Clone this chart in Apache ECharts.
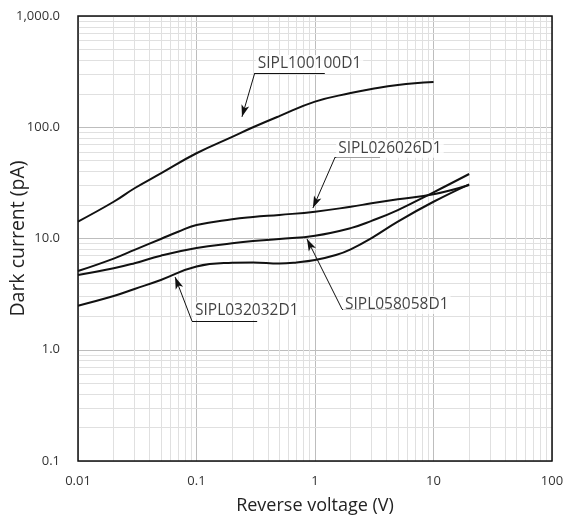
<!DOCTYPE html>
<html>
<head>
<meta charset="utf-8">
<script src="https://cdn.jsdelivr.net/npm/echarts@6/dist/echarts.min.js"></script>
<style>html,body{margin:0;padding:0;background:#fff}#c{width:564px;height:515px}</style>
</head>
<body>
<div id="c"></div>
<script>
// Curves: reverse voltage (V) vs dark current (pA)
const v100 = [0.01, 0.02, 0.03, 0.05, 0.1, 0.2, 0.3, 0.5, 1, 2, 3, 5, 10];
const i100 = [14.2, 21.4, 28.3, 38.5, 58.4, 82, 100, 126, 170, 203, 221, 240, 255];
const v026 = [0.01, 0.02, 0.03, 0.05, 0.07, 0.1, 0.2, 0.3, 0.5, 1, 2, 3, 5, 10, 20];
const i026 = [5.1, 6.6, 7.9, 9.9, 11.5, 13.2, 14.9, 15.6, 16.3, 17.4, 19.3, 20.7, 22.5, 25.0, 30.3];
const v058 = [0.01, 0.02, 0.03, 0.05, 0.1, 0.2, 0.3, 0.5, 1, 2, 3, 5, 10, 20];
const i058 = [4.7, 5.4, 6.0, 7.0, 8.2, 9.06, 9.5, 9.9, 10.6, 12.4, 14.4, 18.0, 26.0, 38.0];
const v032 = [0.01, 0.02, 0.03, 0.05, 0.1, 0.2, 0.3, 0.5, 0.7, 1, 1.5, 2, 3, 5, 10, 20];
const i032 = [2.49, 3.04, 3.52, 4.24, 5.6, 6.05, 6.1, 5.97, 6.1, 6.4, 7.1, 8.0, 10.1, 14.2, 21.4, 30.7];

// Axis ticks
const xTicks = [0.01, 0.1, 1, 10, 100];
const xTickLabels = ['0.01', '0.1', '1', '10', '100'];
const yTicks = [0.1, 1, 10, 100, 1000];
const yTickLabels = ['0.1', '1.0', '10.0', '100.0', '1,000.0'];
const minorMult = [2, 3, 4, 5, 6, 7, 8, 9];

// Annotations: name, text anchor [V, pA], underline end V, arrow tip [V, pA]
const annNames = ['SIPL100100D1', 'SIPL026026D1', 'SIPL058058D1', 'SIPL032032D1'];
const annStart = [[0.31, 307], [1.48, 54], [1.69, 2.32], [0.0916, 1.81]];
const annTextY = [370, 64, 2.53, 2.24];
const annLineEndX = [1.21, 3.54, 5.86, 0.325];
const annTip = [[0.242, 124], [0.96, 18.8], [0.856, 9.9], [0.066, 4.5]];

const zip = (a, b) => a.map((x, i) => [x, b[i]]);

const minorX = [];
[0.01, 0.1, 1, 10].forEach(d => minorMult.forEach(m => minorX.push(+(d * m).toPrecision(3))));
const minorY = [];
[0.1, 1, 10, 100].forEach(d => minorMult.forEach(m => minorY.push(+(d * m).toPrecision(3))));

const fontFam = 'Open Sans';
const curveStyle = { color: '#111', width: 2 };

function curve(name, v, i) {
  return { name, type: 'line', data: zip(v, i), smooth: 0.45, showSymbol: false, symbol: 'none',
    lineStyle: curveStyle, z: 5, silent: true };
}

const annLines = [];
annNames.forEach((n, k) => {
  annLines.push([{ coord: annStart[k], symbol: 'none' }, { coord: annTip[k], symbol: 'arrow', symbolSize: [6, 12] }]);
  annLines.push([{ coord: annStart[k], symbol: 'none' }, { coord: [annLineEndX[k], annStart[k][1]], symbol: 'none' }]);
});

const chart = echarts.init(document.getElementById('c'), null, { renderer: 'canvas' });
chart.setOption({
  animation: false,
  backgroundColor: '#fff',
  grid: { left: 78, top: 16, right: 12, bottom: 54, containLabel: false, outerBoundsMode: 'none',
    show: true, borderColor: '#111', borderWidth: 1.5, backgroundColor: 'transparent', z: 10 },
  xAxis: {
    type: 'log', logBase: 10, min: 0.01, max: 100,
    name: 'Reverse voltage (V)', nameLocation: 'middle', nameGap: 36, nameMoveOverlap: false,
    nameTextStyle: { fontFamily: fontFam, fontSize: 18, color: '#222' },
    axisLine: { show: false }, axisTick: { show: false },
    axisLabel: { fontFamily: fontFam, fontSize: 13, color: '#333', margin: 14,
      formatter: v => { const k = xTicks.findIndex(t => Math.abs(Math.log10(t) - Math.log10(v)) < 1e-6); return k >= 0 ? xTickLabels[k] : ''; } },
    splitLine: { show: true, lineStyle: { color: '#bdbdbd', width: 1 } }
  },
  yAxis: {
    type: 'log', logBase: 10, min: 0.1, max: 1000,
    name: 'Dark current (pA)', nameLocation: 'middle', nameGap: 50, nameRotate: 90, nameMoveOverlap: false,
    nameTextStyle: { fontFamily: fontFam, fontSize: 19.5, color: '#222' },
    axisLine: { show: false }, axisTick: { show: false },
    axisLabel: { fontFamily: fontFam, fontSize: 13, color: '#333', margin: 18,
      formatter: v => { const k = yTicks.findIndex(t => Math.abs(Math.log10(t) - Math.log10(v)) < 1e-6); return k >= 0 ? yTickLabels[k] : ''; } },
    splitLine: { show: true, lineStyle: { color: '#bdbdbd', width: 1 } }
  },
  series: [
    { name: 'minor', type: 'line', data: [], silent: true, z: 1,
      markLine: { silent: true, symbol: 'none', animation: false, label: { show: false },
        lineStyle: { color: '#e0e0e0', width: 1, type: 'solid' },
        data: minorX.map(x => ({ xAxis: x })).concat(minorY.map(y => ({ yAxis: y }))) } },
    curve('SIPL100100D1', v100, i100),
    curve('SIPL026026D1', v026, i026),
    curve('SIPL058058D1', v058, i058),
    curve('SIPL032032D1', v032, i032),
    { name: 'ann', type: 'line', data: [], silent: true, z: 6,
      markLine: { silent: true, animation: false, label: { show: false },
        lineStyle: { color: '#111', width: 1, type: 'solid' }, emphasis: { disabled: true },
        data: annLines } },
    { name: 'annText', type: 'scatter', symbolSize: 0, silent: true, z: 7,
      data: annNames.map((n, k) => ({ value: [annStart[k][0], annTextY[k]], name: n })),
      label: { show: true, position: 'right', distance: 1, formatter: p => p.name,
        fontFamily: fontFam, fontSize: 15.5, color: '#111', backgroundColor: '#fff', padding: [1, 2] } }
  ]
});
</script>
</body>
</html>
